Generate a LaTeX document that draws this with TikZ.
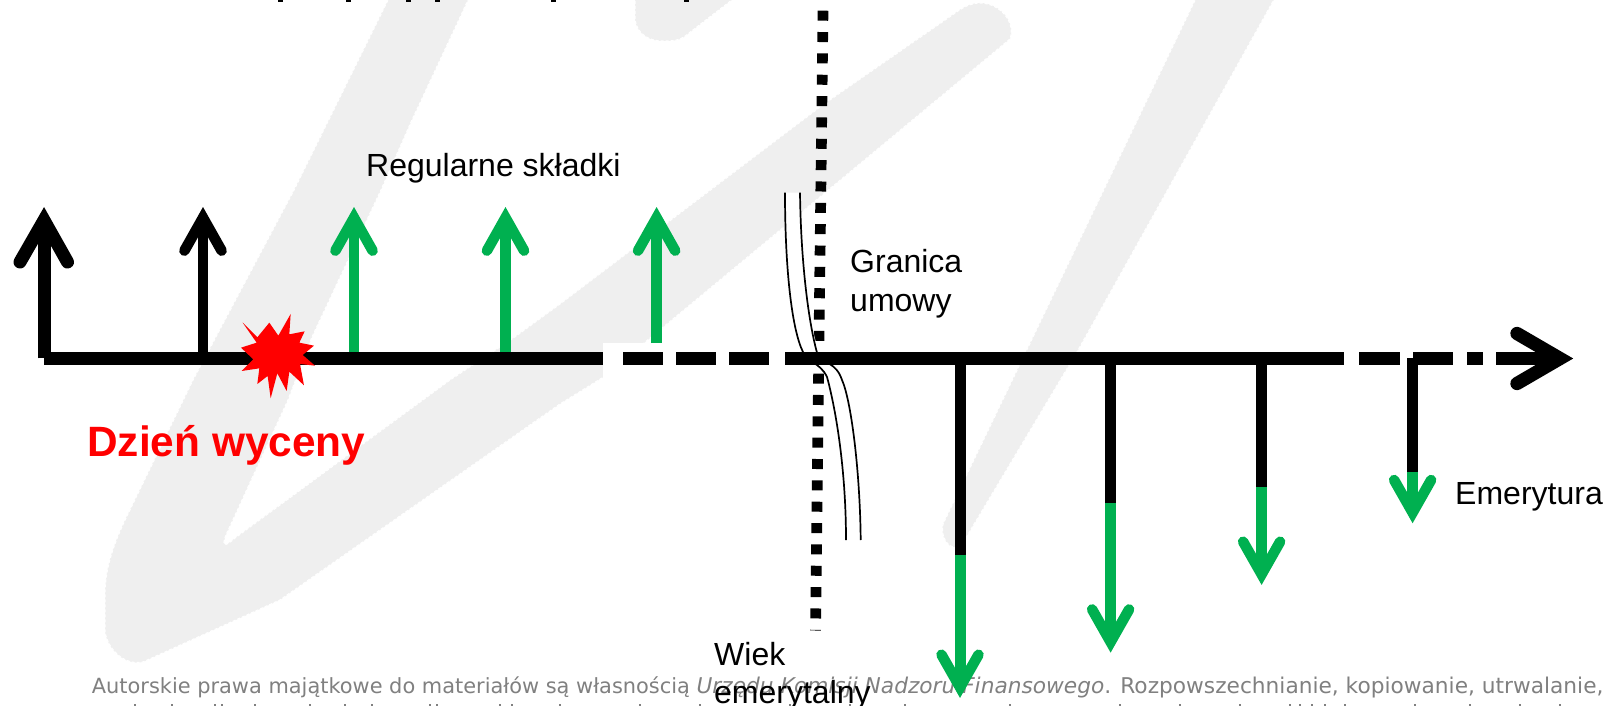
\documentclass[tikz,border=0pt]{standalone}
\usepackage{fontspec}
\setmainfont{Liberation Sans}
\newfontfamily\footfont{DejaVu Sans}
\definecolor{mark}{HTML}{EFEFEF}
\definecolor{flow}{HTML}{00B050}
\definecolor{foot}{HTML}{808080}
\tikzset{
  wm/.style={fill=mark,draw=white,line width=1.2pt,dash pattern=on 3pt off 2pt},
  axisline/.style={line width=13.3pt,black},
  shaftline/.style={line width=#1},
  headline/.style={line width=10.5pt,line cap=round,line join=miter},
  label/.style={inner sep=0pt,anchor=base west,font=\fontsize{32pt}{38.6pt}\selectfont},
  breakline/.style={line width=1.7pt,black}
}
\newcommand\mkhead[6]{%
  \coordinate (#1-v) at (#2,#3);
  \coordinate (#1-l) at ({#2-#5},#4);
  \coordinate (#1-r) at ({#2+#5},#4);
  \draw[headline,#6] (#1-l) -- (#1-v) -- (#1-r);}
\newcommand\upflow[3]{% name, x, bottom y
  \coordinate (#1-b) at (#2,#3);
  \coordinate (#1-t) at (#2,222);
  \draw[shaftline=10.5pt,flow] (#1-b) -- (#1-t);
  \mkhead{#1}{#2}{217.7}{250.7}{18.6}{flow}}
\newcommand\downflow[4]{% name, x, change y, tip y
  \coordinate (#1-b) at (#2,358);
  \coordinate (#1-m) at (#2,#3);
  \coordinate (#1-e) at (#2,{#4-14});
  \draw[shaftline=11pt,black] (#1-b) -- (#1-m);
  \draw[shaftline=11pt,flow] (#1-m) -- (#1-e);
  \mkhead{#1}{#2}{#4-10.7}{#4-43.3}{18.5}{flow}}
\begin{document}
\begin{tikzpicture}[x=1pt,y=-1pt]
\clip (0,0) rectangle (1607,706);
\fill[white] (0,0) rectangle (1607,706);
% watermark
\path[wm] (390,-4) -- (294,190) -- (193,380) -- (125,520)
  .. controls (112,548) and (105,570) .. (105,595) -- (105,632)
  .. controls (108,650) and (125,666) .. (143,662)
  -- (280,600) -- (560,404) -- (602,378) -- (838,182) -- (1010,39)
  .. controls (1016,22) and (1000,3) .. (980,3)
  .. controls (972,3) and (965,6) .. (958,11)
  -- (824,104) -- (560,304) -- (512,339) -- (450,380) -- (235,538)
  .. controls (226,546) and (221,548) .. (226,535)
  -- (288,400) -- (312,337) -- (381,190) -- (412,120) -- (470,-4) -- cycle;
\path[wm] (635,-4) -- (635,20) .. controls (637,33) and (648,41) .. (662,41)
  .. controls (672,41) and (678,41) .. (684,37) -- (737,-4) -- cycle;
\path[wm] (1197,-4) -- (943,524) .. controls (940,536) and (948,548) .. (955,547)
  .. controls (960,546) and (964,542) .. (967,536)
  -- (1077,352) -- (1276,-4) -- cycle;
% cropped title, bottom of descenders
\foreach \tx in {280,348,408,437,553,686}
  \fill[black] (\tx-2.5,0) rectangle (\tx+2.5,2.2);
% footer
\node[inner sep=0pt,anchor=base west,text=foot] (footer) at (91.7,693.3)
  {\footfont\fontsize{20.9pt}{24pt}\selectfont Autorskie prawa majątkowe do materiałów są własnością {\fontsize{21.7pt}{24pt}\selectfont\textit{Urzędu Komisji Nadzoru Finansowego}. Rozpowszechnianie, kopiowanie, utrwalanie,}};
\foreach \tx in {135,172,215,222,255,310,345,372,430,437,500,512,560,640,700,790,850,905,1010,1120,1180,1240,1290,1300,1312,1325,1345,1415,1470,1520,1560}
  \fill[foot] (\tx-1,703.5) rectangle (\tx+1,706);
% white patch at the first gap of the axis
\fill[white] (603,343) rectangle (785,380);
% contract boundary, dotted
\coordinate (dotT) at (823,10.7);
\coordinate (dotB) at (815.5,630.5);
\draw[line width=10.7pt,dash pattern=on 10pt off 11.35pt] (dotT) -- (dotB);
% break mark
\coordinate (brA) at (785,192.7);
\coordinate (brB) at (800,192.7);
\coordinate (brC) at (846,540);
\coordinate (brD) at (860.7,540);
\fill[white] (brA) .. controls (785,270) and (792,330) .. (803,352)
  .. controls (806,362) and (820,362) .. (827,377)
  .. controls (836,410) and (846,470) .. (brC) -- (brD)
  .. controls (860,470) and (851,400) .. (842,380)
  .. controls (838,368) and (832,365) .. (822,362)
  .. controls (810,330) and (801,270) .. (brB) -- cycle;
\draw[breakline] (brA) .. controls (785,270) and (792,330) .. (803,352)
  .. controls (806,362) and (820,362) .. (827,377)
  .. controls (836,410) and (846,470) .. (brC);
\draw[breakline] (brB) .. controls (801,270) and (810,330) .. (818,356)
  .. controls (824,364) and (836,362) .. (842,380)
  .. controls (851,400) and (860,470) .. (brD);
% up arrows
\coordinate (u1-b) at (44,358.3);
\coordinate (u1-t) at (44,225);
\draw[shaftline=13pt,black] (u1-b) -- (u1-t);
\draw[headline,line width=13pt,black] (20,262) coordinate (u1-l) -- (44,220.2) coordinate (u1-v) -- (67.5,262) coordinate (u1-r);
\coordinate (u2-b) at (203,358);
\coordinate (u2-t) at (203,222);
\draw[shaftline=10.5pt,black] (u2-b) -- (u2-t);
\mkhead{u2}{203}{217.7}{250.7}{18.6}{black}
\upflow{g1}{354}{358}
\upflow{g2}{505.5}{358}
\upflow{g3}{656.6}{343}
% down arrows
\downflow{d1}{960}{554.6}{698}
\downflow{d2}{1110.6}{503}{652.7}
\downflow{d3}{1261.6}{487}{585}
\downflow{d4}{1412.6}{471.7}{523.3}
% axis
\coordinate (axA) at (44,358.5);
\coordinate (axB) at (603,358.5);
\coordinate (axC) at (785,358.5);
\coordinate (axD) at (1344,358.5);
\draw[axisline] (axA) -- (axB);
\draw[axisline] (axC) -- (axD);
\foreach \xa/\xb in {623/662.6,676/716,729/769,1359/1400,1413/1453,1467/1483}
  \draw[axisline] (\xa,358.5) -- (\xb,358.5);
\coordinate (axE) at (1496,358.5);
\coordinate (axF) at (1560,358.5);
\draw[axisline] (axE) -- (axF);
\draw[headline,line width=13.3pt,black] (1517,333.5) coordinate (axL) -- (axF) -- (1517,383.5) coordinate (axR);
% star
\begin{scope}[shift={(200,290)},x=0.3333pt,y=-0.3333pt]
\fill[red] (128,98) -- (172,142) -- (208,98) -- (235,137) -- (272,72) -- (268,133)
  -- (314,124) -- (298,158) -- (342,167) -- (308,195) -- (345,227) -- (300,222)
  -- (312,286) -- (268,245) -- (260,303) -- (232,250) -- (212,325) -- (203,258)
  -- (172,282) -- (178,235) -- (125,243) -- (160,208) -- (123,173) -- (170,158) -- cycle;
\end{scope}
% labels
\node[label] (regular) at (366,176) {Regularne składki};
\node[label,font=\bfseries\fontsize{42.4pt}{50pt}\selectfont,text=red] (dzien) at (87,456) {Dzień wyceny};
\node[label] (granica) at (850,272.4) {Granica};
\node[label] (umowy) at (850,311) {umowy};
\node[label] (wiek) at (714,665) {Wiek};
\node[label] (emeryt) at (714,703) {emerytalny};
\node[label] (emerytura) at (1455,504.8) {Emerytura};
\end{tikzpicture}
\end{document}
